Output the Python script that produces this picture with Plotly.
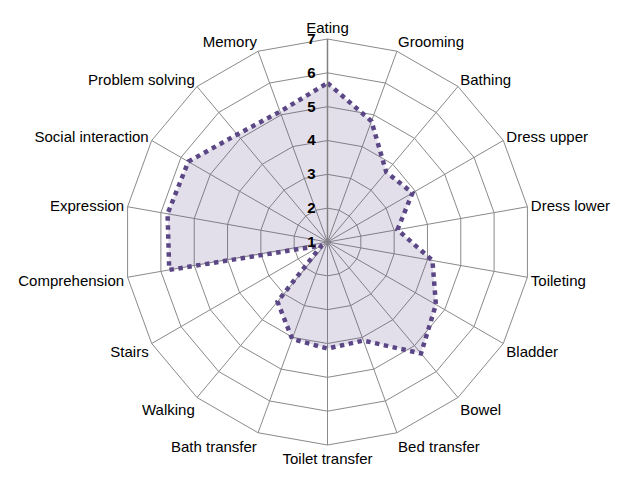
import plotly.graph_objects as go

categories = ["Eating", "Grooming", "Bathing", "Dress upper", "Dress lower", "Toileting",
              "Bladder", "Bowel", "Bed transfer", "Toilet transfer", "Bath transfer", "Walking",
              "Stairs", "Comprehension", "Expression", "Social interaction", "Problem solving", "Memory"]
values = [5.7, 4.8, 3.7, 3.9, 3.1, 4.15, 4.7, 5.3, 4.1, 4.15, 4.05, 3.3, 1.2, 5.75, 5.8, 5.75, 5.15, 5.1]
tick_vals = [1, 2, 3, 4, 5, 6, 7]

fig = go.Figure()
fig.add_trace(go.Scatterpolar(
    r=values + values[:1],
    theta=categories + categories[:1],
    mode="lines",
    fill="toself",
    fillcolor="rgba(100,78,140,0.18)",
    line=dict(color="#5B4785", width=4.5, dash="4.5px,4.5px"),
    showlegend=False,
    hoverinfo="r+theta",
))

# page body has an 8px margin; figure is sized to fit the window
OFF = 8
W, H = 633 - OFF, 478 - OFF
cx, cy, R = 327.5 - OFF, 242 - OFF, 203
fig.update_layout(
    width=W, height=H,
    margin=dict(l=0, r=0, t=0, b=0),
    paper_bgcolor="white",
    plot_bgcolor="white",
    font=dict(family="Liberation Sans, Arial, sans-serif", size=15, color="black"),
    polar=dict(
        domain=dict(x=[(cx - R) / W, (cx + R) / W], y=[1 - (cy + R) / H, 1 - (cy - R) / H]),
        gridshape="linear",
        bgcolor="white",
        angularaxis=dict(
            direction="clockwise",
            rotation=90,
            categoryorder="array",
            categoryarray=categories,
            showline=True,
            linecolor="#8a8a8a",
            linewidth=1,
            gridcolor="#8a8a8a",
            gridwidth=1,
            ticks="",
            tickfont=dict(size=15, color="black"),
        ),
        radialaxis=dict(
            range=[1, 7],
            tickvals=tick_vals,
            ticktext=[str(v) for v in tick_vals],
            angle=90,
            tickangle=90,
            side="counterclockwise",
            showline=True,
            linecolor="#808080",
            linewidth=1.5,
            gridcolor="#8a8a8a",
            gridwidth=1,
            ticks="outside",
            ticklen=6,
            tickcolor="rgba(0,0,0,0)",
            tickfont=dict(size=15, color="black", family="Liberation Sans, Arial, sans-serif", weight="bold"),
        ),
    ),
)

fig.write_html("out.html")
